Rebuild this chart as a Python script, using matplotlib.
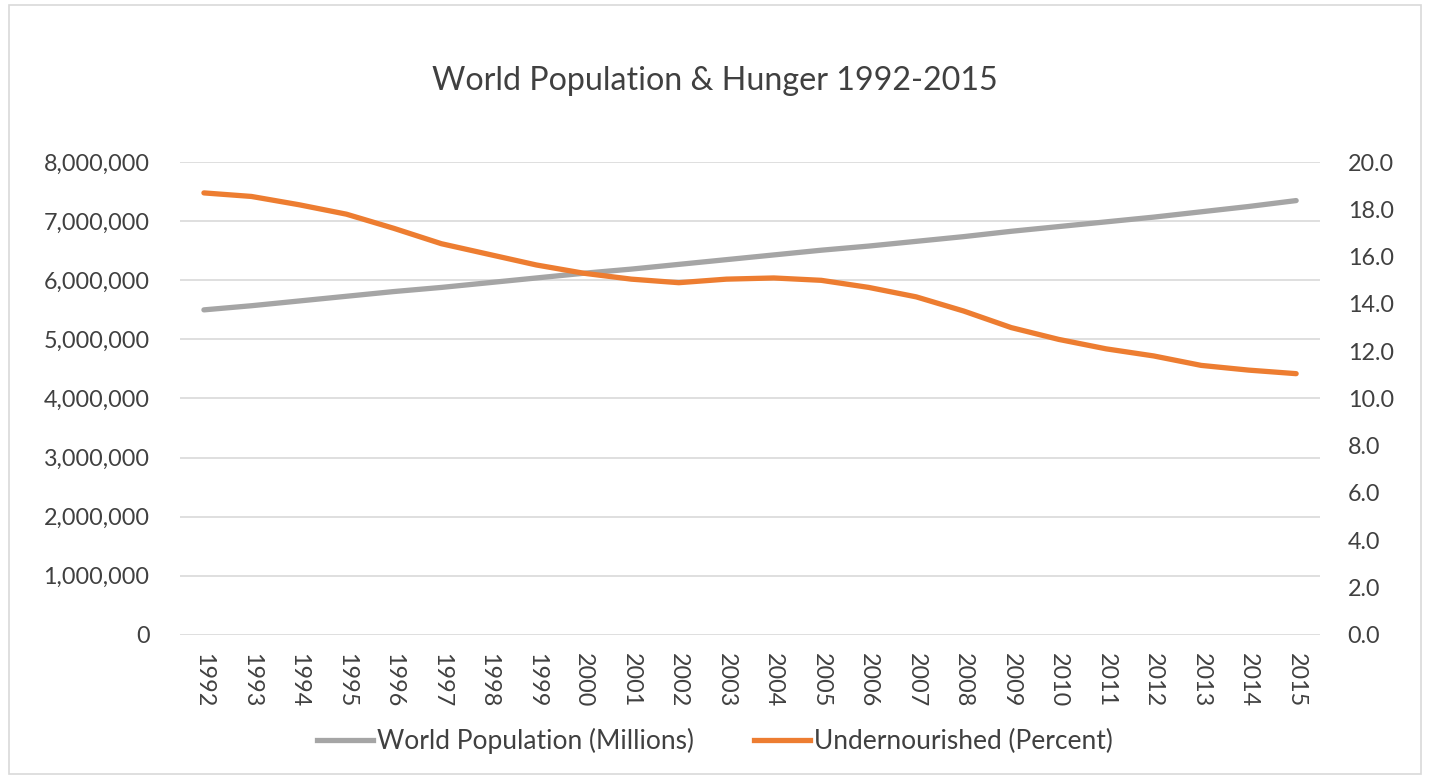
import matplotlib.pyplot as plt
from matplotlib.patches import Rectangle
from matplotlib.lines import Line2D
from matplotlib.ticker import FuncFormatter

plt.rcParams['font.family'] = ['Lato', 'DejaVu Sans']

# Data
years = [str(y) for y in range(1992, 2016)]
population = [5500000, 5570000, 5650000, 5730000, 5810000, 5880000, 5960000,
              6040000, 6120000, 6190000, 6270000, 6350000, 6430000, 6510000,
              6580000, 6660000, 6740000, 6830000, 6910000, 6990000, 7070000,
              7160000, 7250000, 7350000]
undernourished = [18.7, 18.55, 18.2, 17.8, 17.2, 16.55, 16.1, 15.65, 15.3, 15.05,
                  14.9, 15.05, 15.1, 15.0, 14.7, 14.3, 13.7, 13.0, 12.5, 12.1,
                  11.8, 11.4, 11.2, 11.05]

text_col = '#404040'
grey = '#A5A5A5'
orange = '#ED7D31'

fig = plt.figure(figsize=(14.3, 7.76), dpi=100)
fig.patches.append(Rectangle((0.006, 0.003), 0.988, 0.99, transform=fig.transFigure,
                             fill=False, edgecolor='#D9D9D9', linewidth=1.2))

ax = fig.add_axes([0.126, 0.182, 0.797, 0.609])
ax2 = ax.twinx()

x = list(range(len(years)))
ax.plot(x, population, color=grey, linewidth=3.8, solid_capstyle='round', zorder=3)
ax2.plot(x, undernourished, color=orange, linewidth=3.8, solid_capstyle='round', zorder=3)

ax.set_xlim(-0.5, len(years) - 0.5)
ax.set_ylim(0, 8000000)
ax.set_yticks(range(0, 8000001, 1000000))
ax.yaxis.set_major_formatter(FuncFormatter(lambda v, p: f'{int(v):,}'))
ax2.set_ylim(0, 20)
ax2.set_yticks([i * 2.0 for i in range(11)])
ax2.yaxis.set_major_formatter(FuncFormatter(lambda v, p: f'{v:.1f}'))

ax.set_xticks(x)
ax.set_xticklabels(years, rotation=-90)
ax.grid(axis='y', color='#D9D9D9', linewidth=1.2)
ax.set_axisbelow(True)

for a in (ax, ax2):
    for s in a.spines.values():
        s.set_visible(False)
    a.tick_params(length=0, labelsize=16.8, colors=text_col)
ax.tick_params(axis='y', pad=22)
ax2.tick_params(axis='y', pad=20)
ax.tick_params(axis='x', pad=13)

fig.text(0.5, 0.895, 'World Population & Hunger 1992-2015', ha='center', va='center',
         fontsize=23.2, color=text_col)

handles = [Line2D([], [], color=grey, linewidth=3.8),
           Line2D([], [], color=orange, linewidth=3.8)]
fig.legend(handles, ['World Population (Millions)', 'Undernourished (Percent)'],
           loc='center', bbox_to_anchor=(0.5, 0.045), ncol=2, frameon=False,
           fontsize=19, labelcolor=text_col, handlelength=2.1, handletextpad=0.15,
           columnspacing=2.3)

fig.savefig('out.png', dpi=100)
